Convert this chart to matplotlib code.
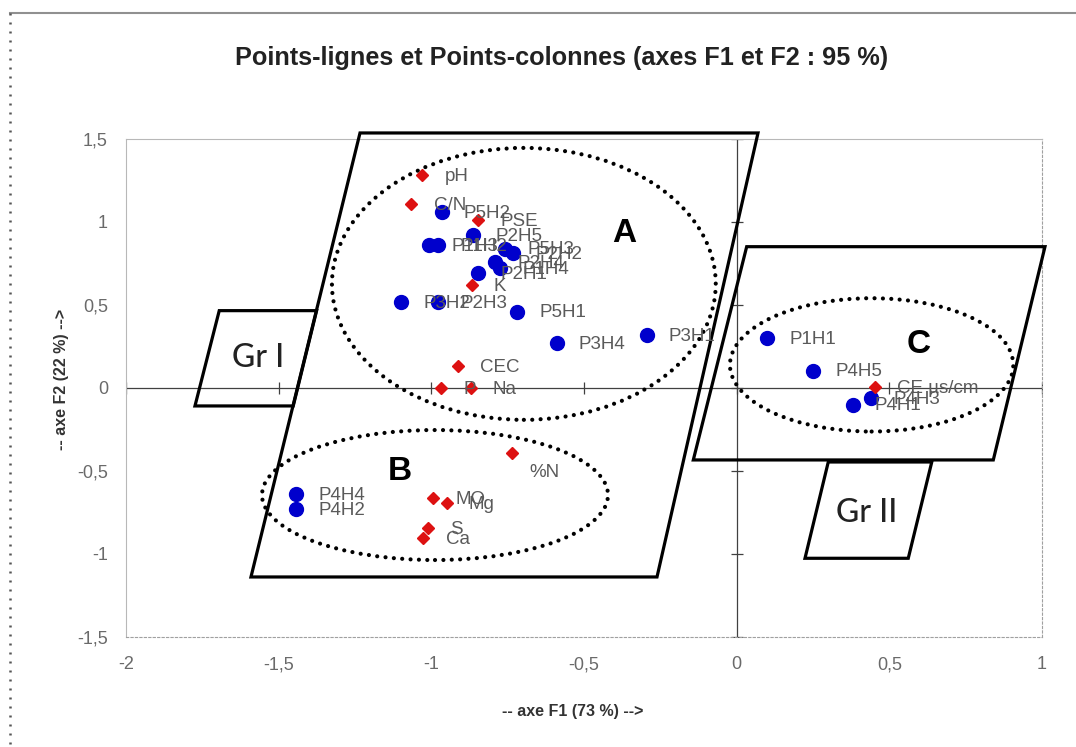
import matplotlib
matplotlib.use('Agg')
import matplotlib.pyplot as plt
from matplotlib.patches import Ellipse, Polygon
from matplotlib.lines import Line2D
from matplotlib.ticker import FuncFormatter

plt.rcParams['font.family'] = ['Liberation Sans', 'DejaVu Sans']
plt.rcParams['axes.unicode_minus'] = False

# points-lignes (profils / horizons)
row_labels = ['P1H1', 'P4H5', 'P4H1', 'P4H3', 'P3H1', 'P3H4', 'P5H1', 'P3H2', 'P2H3',
              'P5H2', 'P2H5', 'P1H3', 'P1H2', 'P5H3', 'P2H2', 'P2H4', 'P1H4', 'P2H1',
              'P4H4', 'P4H2']
row_x = [0.10, 0.25, 0.38, 0.44, -0.295, -0.59, -0.72, -1.10, -0.977,
         -0.966, -0.863, -1.007, -0.977, -0.759, -0.732, -0.79, -0.775, -0.846,
         -1.443, -1.443]
row_y = [0.30, 0.105, -0.10, -0.06, 0.32, 0.27, 0.46, 0.52, 0.52,
         1.06, 0.92, 0.86, 0.86, 0.84, 0.81, 0.76, 0.72, 0.69,
         -0.64, -0.73]

# points-colonnes (variables)
col_labels = ['pH', 'C/N', 'PSE', 'K', 'CEC', 'P', 'Na', '%N', 'MO', 'Mg', 'S', 'Ca', 'CE µs/cm']
col_x = [-1.03, -1.065, -0.846, -0.868, -0.912, -0.969, -0.871, -0.737, -0.994, -0.95,
         -1.01, -1.026, 0.453]
col_y = [1.28, 1.11, 1.01, 0.62, 0.13, 0.0, 0.0, -0.39, -0.665, -0.695, -0.845, -0.905, 0.005]

xticks = [-2, -1.5, -1, -0.5, 0, 0.5, 1]
yticks = [-1.5, -1, -0.5, 0, 0.5, 1, 1.5]


def virgule(v, pos=None):
    return ('%g' % v).replace('.', ',')


fig = plt.figure(figsize=(10.76, 7.47), dpi=100)
ax = fig.add_axes([0.1171, 0.1473, 0.8513, 0.6667])
ax.set_xlim(-2, 1)
ax.set_ylim(-1.5, 1.5)
ax.set_xticks(xticks)
ax.set_yticks(yticks)
ax.xaxis.set_major_formatter(FuncFormatter(virgule))
ax.yaxis.set_major_formatter(FuncFormatter(virgule))
ax.tick_params(axis='x', length=0, pad=14, labelsize=13, labelcolor='#6a6a6a')
ax.tick_params(axis='y', length=0, pad=13, labelsize=13, labelcolor='#6a6a6a')
for s in ['left', 'top']:
    ax.spines[s].set_color('#b8b8b8')
for s in ['bottom', 'right']:
    ax.spines[s].set_color('#a0a0a0')
    ax.spines[s].set_linestyle((0, (2, 2)))

# axes passant par l'origine
ax.axhline(0, color='#404040', lw=0.9, zorder=1)
ax.axvline(0, color='#404040', lw=0.9, zorder=1)
ax.plot(xticks, [0] * len(xticks), ls='none', marker='|', ms=8, mew=0.9, color='#404040', zorder=1)
ax.plot([0] * len(yticks), yticks, ls='none', marker='_', ms=8, mew=0.9, color='#404040', zorder=1)

# groupes
shapes = [
    [(-1.2336, 1.536), (0.0699, 1.536), (-0.2609, -1.1386), (-1.5907, -1.1386)],
    [(-1.6946, 0.4657), (-1.3757, 0.4657), (-1.4523, -0.1084), (-1.7741, -0.1084)],
    [(0.0328, 0.851), (1.0098, 0.851), (0.8405, -0.4337), (-0.142, -0.4337)],
    [(0.300, -0.446), (0.639, -0.446), (0.562, -1.026), (0.2238, -1.026)],
]
for pts in shapes:
    ax.add_patch(Polygon(pts, closed=True, fill=False, ec='black', lw=2.3,
                         joinstyle='miter', clip_on=False, zorder=3))

ellipses = [(-0.697, 0.627, 1.257, 1.638), (-0.988, -0.645, 1.133, 0.783), (0.442, 0.139, 0.928, 0.803)]
for cx, cy, w, h in ellipses:
    ax.add_patch(Ellipse((cx, cy), w, h, fill=False, ec='black', lw=3,
                         ls=(0, (0.01, 2.0)), capstyle='round', clip_on=False, zorder=3))

ax.text(-0.369, 0.928, 'A', fontsize=24, fontweight='bold', ha='center', va='center', zorder=6)
ax.text(-1.103, -0.503, 'B', fontsize=24, fontweight='bold', ha='center', va='center', zorder=6)
ax.text(0.595, 0.259, 'C', fontsize=24, fontweight='bold', ha='center', va='center', zorder=6)
ax.text(-1.568, 0.181, 'Gr I', fontsize=23, family=['Lato', 'DejaVu Sans'], fontweight='medium',
        ha='center', va='center', color='#222222', zorder=6)
ax.text(0.426, -0.755, 'Gr II', fontsize=23, family=['Lato', 'DejaVu Sans'], fontweight='medium',
        ha='center', va='center', color='#222222', zorder=6)

# points
ax.plot(row_x, row_y, ls='none', marker='o', ms=10, color='#0000cc', zorder=4)
ax.plot(col_x, col_y, ls='none', marker='D', ms=6.5, color='#dd1111', zorder=4)

for lab, x, y in zip(row_labels, row_x, row_y):
    ax.annotate(lab, (x, y), xytext=(16, -1), textcoords='offset points', va='center',
                fontsize=13.5, color='#5a5a5a', zorder=5)
for lab, x, y in zip(col_labels, col_x, col_y):
    off = (13, -14) if lab == '%N' else (16, -1)
    ax.annotate(lab, (x, y), xytext=off, textcoords='offset points', va='center',
                fontsize=13.5, color='#5a5a5a', zorder=5)

fig.text(0.522, 0.922, 'Points-lignes et Points-colonnes (axes F1 et F2 : 95 %)',
         fontsize=18.2, fontweight='bold', color='#222222', ha='center', va='center')
fig.text(0.5325, 0.047, '-- axe F1 (73 %) -->', fontsize=11.5, fontweight='bold',
         color='#333333', ha='center', va='center')
fig.text(0.0567, 0.4926, '-- axe F2 (22 %) -->', fontsize=11.5, fontweight='bold',
         color='#333333', ha='center', va='center', rotation=90)

# cadre extérieur
fig.add_artist(Line2D([0.009, 1.0], [0.982, 0.982], color='#909090', lw=1.5))
fig.add_artist(Line2D([0.009, 0.009], [0.982, 0.0], color='#555555', lw=1.8,
                      ls=(0, (0.8, 2.8))))

fig.savefig('out.png', dpi=100)
